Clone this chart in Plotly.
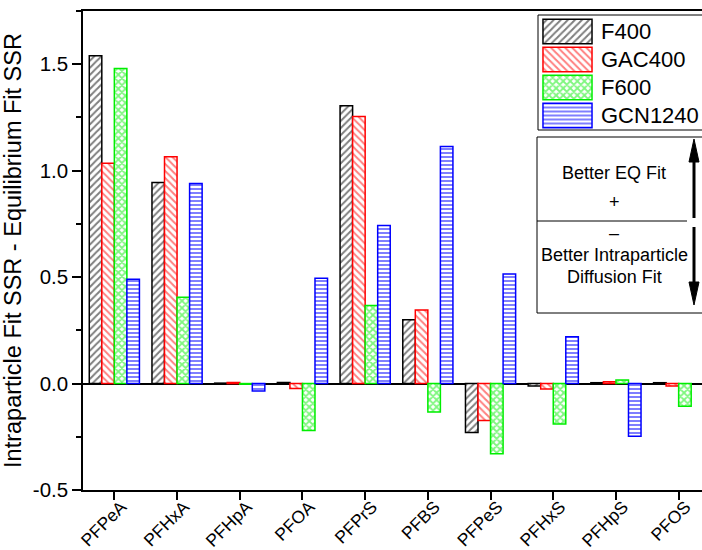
import plotly.graph_objects as go

# ---------------- data ----------------
categories = ["PFPeA", "PFHxA", "PFHpA", "PFOA", "PFPrS", "PFBS", "PFPeS", "PFHxS", "PFHpS", "PFOS"]
F400 = [1.54, 0.945, 0.002, 0.005, 1.305, 0.30, -0.23, -0.012, 0.004, 0.004]
GAC400 = [1.035, 1.065, 0.005, -0.023, 1.255, 0.345, -0.173, -0.025, 0.008, -0.012]
F600 = [1.48, 0.405, -0.003, -0.22, 0.367, -0.134, -0.33, -0.19, 0.017, -0.107]
GCN1240 = [0.49, 0.94, -0.035, 0.495, 0.742, 1.113, 0.515, 0.22, -0.248, None]
series_names = ["F400", "GAC400", "F600", "GCN1240"]
y_tick_vals = [-0.5, 0.0, 0.5, 1.0, 1.5]
y_tick_text = ["-0.5", "0.0", "0.5", "1.0", "1.5"]

# ---------------- styles ----------------
colors = ["#000000", "#FF0000", "#00EE00", "#0000FF"]
shapes_pat = ["/", "\\", "x", "-"]
pat_size = [5, 5, 5, 4]
pat_sol = [0.4, 0.4, 0.6, 0.5]
FONT = "Liberation Sans, Arial, sans-serif"

W_FIG, H_FIG = 702, 550
L, T, B = 83, 11, 60
PW = W_FIG - L
PH = H_FIG - T - B


def px(x):
    return (x - L) / PW


def py(y):
    return (T + PH - y) / PH


fig = go.Figure()
all_series = [F400, GAC400, F600, GCN1240]
for name, vals, c, sh, sz, so in zip(series_names, all_series, colors, shapes_pat, pat_size, pat_sol):
    fig.add_trace(go.Bar(
        x=categories, y=vals, name=name, showlegend=False,
        marker=dict(color="white", line=dict(color=c, width=1.5),
                    pattern=dict(shape=sh, fgcolor=c, bgcolor="white", size=sz, solidity=so)),
    ))

# legend swatches drawn as bars on an inset axis
fig.add_trace(go.Bar(
    x=[1, 1, 1, 1], y=[0, 1, 2, 3], base=0, orientation="h", width=0.88,
    xaxis="x2", yaxis="y2", showlegend=False, hoverinfo="skip",
    marker=dict(color="white", line=dict(color=colors, width=1.5),
                pattern=dict(shape=shapes_pat, fgcolor=colors, bgcolor="white",
                             size=pat_size, solidity=pat_sol)),
))

fig.update_layout(
    width=W_FIG, height=H_FIG,
    margin=dict(l=L, r=0, t=T, b=B, pad=0, autoexpand=False),
    paper_bgcolor="white", plot_bgcolor="white",
    barmode="group", bargap=0.2, bargroupgap=0,
    font=dict(family=FONT, color="black"),
    xaxis=dict(
        type="category", range=[-0.5, -0.5 + PW / 62.7], automargin=False,
        showline=True, linecolor="black", linewidth=1.5, mirror=True,
        ticks="outside", ticklen=8, tickwidth=1.5, tickcolor="black",
        tickangle=-45, tickfont=dict(size=17.5, family=FONT),
        ticklabelstandoff=-10, ticklabelshift=7,
        showgrid=False, zeroline=False,
    ),
    yaxis=dict(
        range=[-0.5, 1.75], tickvals=y_tick_vals, ticktext=y_tick_text, automargin=False,
        showline=True, linecolor="black", linewidth=1.5, mirror=False,
        ticks="outside", ticklen=9, tickwidth=1.5, tickcolor="black",
        minor=dict(dtick=0.25, ticks="outside", ticklen=5, tickwidth=1.5, tickcolor="black", showgrid=False),
        tickfont=dict(size=20.5, family=FONT),
        showgrid=False, zeroline=True, zerolinecolor="black", zerolinewidth=1.5,
        title=dict(text="Intraparticle Fit SSR - Equilibrium Fit SSR", font=dict(size=23.5, family=FONT), standoff=6),
    ),
    xaxis2=dict(domain=[px(542), px(593)], range=[-0.02, 1.02], visible=False, anchor="y2", fixedrange=True),
    yaxis2=dict(domain=[py(129.5), py(17.5)], range=[3.5, -0.5], visible=False, anchor="x2", fixedrange=True),
)

shapes = []
# legend box
shapes.append(dict(type="rect", xref="paper", yref="paper", x0=px(538), x1=px(712), y0=py(130), y1=py(15),
                   line=dict(color="black", width=1), fillcolor="rgba(0,0,0,0)"))
# annotation box
shapes.append(dict(type="rect", xref="paper", yref="paper", x0=px(537), x1=px(712), y0=py(313), y1=py(137),
                   line=dict(color="black", width=1), fillcolor="white", layer="below"))
shapes.append(dict(type="line", xref="paper", yref="paper", x0=px(537), x1=px(687), y0=py(221), y1=py(221),
                   line=dict(color="black", width=1)))
# arrows (shaft + head)
ax_x = 694
shapes.append(dict(type="line", xref="paper", yref="paper", x0=px(ax_x), x1=px(ax_x), y0=py(218), y1=py(160),
                   line=dict(color="black", width=3)))
shapes.append(dict(type="path", xref="paper", yref="paper",
                   path=f"M {px(ax_x-5)},{py(162)} L {px(ax_x)},{py(139)} L {px(ax_x+5)},{py(162)} Z",
                   fillcolor="black", line=dict(color="black", width=1)))
shapes.append(dict(type="line", xref="paper", yref="paper", x0=px(ax_x), x1=px(ax_x), y0=py(227), y1=py(285),
                   line=dict(color="black", width=3)))
shapes.append(dict(type="path", xref="paper", yref="paper",
                   path=f"M {px(ax_x-5)},{py(282)} L {px(ax_x)},{py(305)} L {px(ax_x+5)},{py(282)} Z",
                   fillcolor="black", line=dict(color="black", width=1)))
fig.update_layout(shapes=shapes)

annotations = []
for i, name in enumerate(series_names):
    yc = 17.5 + 28 * i + 14
    annotations.append(dict(x=px(599), y=py(yc), xref="paper", yref="paper", text=name, showarrow=False,
                            xanchor="left", yanchor="middle", font=dict(size=22, family=FONT)))
box_texts = [("Better EQ Fit", 173), ("+", 202), ("\u2013", 233), ("Better Intraparticle", 255), ("Diffusion Fit", 277)]
for txt, yc in box_texts:
    annotations.append(dict(x=px(614), y=py(yc), xref="paper", yref="paper", text=txt, showarrow=False,
                            xanchor="center", yanchor="middle", font=dict(size=18, family=FONT)))
fig.update_layout(annotations=annotations)

fig.write_html("out.html")
